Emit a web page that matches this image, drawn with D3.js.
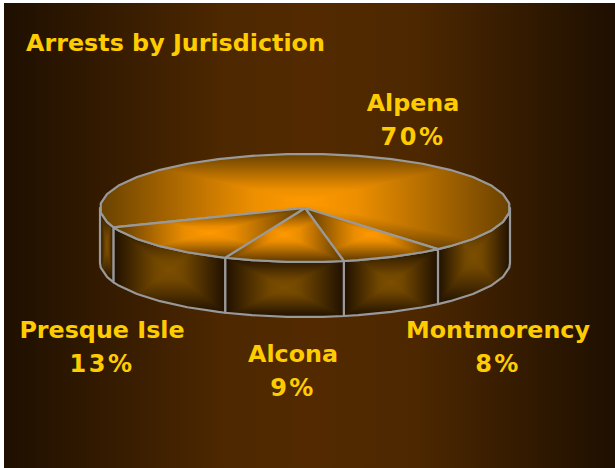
<!DOCTYPE html>
<html>
<head>
<meta charset="utf-8">
<script src="https://cdn.jsdelivr.net/npm/d3@7"></script>
<style>
html,body{margin:0;padding:0;background:#fff;overflow:hidden}
svg{display:block}
text{font-family:"DejaVu Sans",sans-serif;font-weight:700;fill:#ffcc00;text-anchor:middle}
</style>
</head>
<body>
<svg id="c" width="615" height="468"></svg>
<script>
const titleText = "Arrests by Jurisdiction";
const categories = ["Alpena", "Montmorency", "Alcona", "Presque Isle"];
const values = [69.6, 8.2, 9.4, 12.8];
const labelX = [413, 498, 293, 102];
const labelY = [111, 338, 362, 338];

const svg = d3.select("#c");
const defs = svg.append("defs");
const W = 615, H = 468;
const cx = 305, cy = 208, rx = 205, ry = 54, depth = 55;
const STROKE = "#999999";

const bg = defs.append("linearGradient").attr("id","bg").attr("x1",0).attr("x2",1).attr("y1",0).attr("y2",0);
[[0,"#1e0f00"],[0.35,"#4c2700"],[0.5,"#532a00"],[0.68,"#4c2700"],[1,"#1e0f00"]].forEach(s=>bg.append("stop").attr("offset",s[0]).attr("stop-color",s[1]));
svg.append("rect").attr("x",4).attr("y",3).attr("width",W-4).attr("height",H-3).attr("fill","url(#bg)");

const px = d3.scaleLinear().domain([-1,1]).range([cx-rx,cx+rx]);
const py = d3.scaleLinear().domain([-1,1]).range([cy-ry,cy+ry]);
const line = d3.line().x(d=>d[0]).y(d=>d[1]);
const pt = (a,dz=0)=>[px(Math.sin(a)), py(-Math.cos(a))+dz];

const startA = -111*Math.PI/180;
const pie = d3.pie().sort(null).startAngle(startA).endAngle(startA+2*Math.PI);
const arcs = pie(values);

const STEP = 2*Math.PI/36, OFF = STEP/2;
function rim(a0,a1){
  const out=[a0];
  let k=Math.ceil((a0-OFF)/STEP+1e-6);
  for(;OFF+k*STEP<a1-1e-6;k++) out.push(OFF+k*STEP);
  out.push(a1);
  return out;
}

let uid=0;
function face(points, centre, edge){
  const id="f"+(uid++);
  const xs=points.map(p=>p[0]), ys=points.map(p=>p[1]);
  const x0=d3.min(xs), x1=d3.max(xs), y0=d3.min(ys), y1=d3.max(ys);
  const mx=(x0+x1)/2, my=(y0+y1)/2;
  const d=line(points)+"Z";
  defs.append("clipPath").attr("id",id+"c").append("path").attr("d",d);
  const g=svg.append("g").attr("clip-path",`url(#${id}c)`);
  const sides=[
    {tri:[[x0,y0],[x1,y0]],g:[mx,y0,mx,my]},
    {tri:[[x1,y0],[x1,y1]],g:[x1,my,mx,my]},
    {tri:[[x1,y1],[x0,y1]],g:[mx,y1,mx,my]},
    {tri:[[x0,y1],[x0,y0]],g:[x0,my,mx,my]}
  ];
  const mid=d3.interpolateRgb(edge,centre);
  sides.forEach((s,i)=>{
    const lg=defs.append("linearGradient").attr("id",id+"g"+i).attr("gradientUnits","userSpaceOnUse")
      .attr("x1",s.g[0]).attr("y1",s.g[1]).attr("x2",s.g[2]).attr("y2",s.g[3]);
    [[0,0],[0.25,0.3],[0.5,0.6],[0.75,0.88],[1,1]].forEach(q=>
      lg.append("stop").attr("offset",q[0]).attr("stop-color",mid(q[1])));
    g.append("path").attr("d",line([s.tri[0],s.tri[1],[mx,my]])+"Z")
      .attr("fill",`url(#${id}g${i})`).attr("shape-rendering","crispEdges");
  });
  svg.append("path").attr("d",d).attr("fill","none").attr("stroke",STROKE).attr("stroke-width",2.2).attr("stroke-linejoin","round");
}

const wallStart=Math.PI/2, wallEnd=3*Math.PI/2;
const walls=[];
arcs.forEach(a=>{
  [[a.startAngle,a.endAngle],[a.startAngle+2*Math.PI,a.endAngle+2*Math.PI]].forEach(r=>{
    const s=Math.max(r[0],wallStart), e=Math.min(r[1],wallEnd);
    if(e>s) walls.push([s,e]);
  });
});
walls.forEach(w=>{
  const ang=rim(w[0],w[1]);
  const pts=ang.map(a=>pt(a)).concat(ang.slice().reverse().map(a=>pt(a,depth)));
  face(pts,"#7c4e00","#1f1000");
});

arcs.forEach((a,i)=>{
  const pts=[[px(0),py(0)]].concat(rim(a.startAngle,a.endAngle).map(t=>pt(t)));
  face(pts,"#ff9900",i===0?"#6a4200":"#5a3800");
});

const pct = d3.format(".0f");
svg.append("text").attr("x",175.5).attr("y",51).attr("font-size",23.8).text(titleText);
categories.forEach((c,i)=>{
  const g=svg.append("g");
  g.append("text").attr("x",labelX[i]).attr("y",labelY[i]).attr("font-size",23.8).text(c);
  g.append("text").attr("x",labelX[i]).attr("y",labelY[i]+34).attr("font-size",24).attr("letter-spacing",2.5).text(pct(values[i])+"%");
});
</script>
</body>
</html>
